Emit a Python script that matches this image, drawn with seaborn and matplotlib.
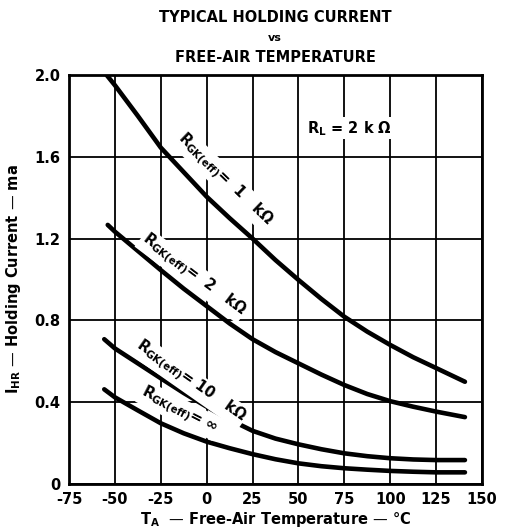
import pandas as pd
import matplotlib
matplotlib.use("Agg")
import matplotlib.pyplot as plt
import seaborn as sns

# temperatures (degC) and holding current (ma)
temp_1k = [-54.5, -50, -37.5, -25, -12.5, 0, 12.5, 25, 37.5, 50, 62.5, 75, 87.5, 100, 112.5, 125, 140.7]
ih_1k = [2.0, 1.95, 1.80, 1.645, 1.525, 1.405, 1.30, 1.20, 1.095, 0.998, 0.905, 0.818, 0.745, 0.68, 0.62, 0.567, 0.50]

temp_2k = [-53.9, -50, -37.5, -25, -12.5, 0, 12.5, 25, 37.5, 50, 62.5, 75, 87.5, 100, 112.5, 125, 140.7]
ih_2k = [1.267, 1.234, 1.14, 1.046, 0.955, 0.870, 0.785, 0.708, 0.645, 0.59, 0.535, 0.484, 0.44, 0.405, 0.378, 0.354, 0.327]

temp_10k = [-55.8, -50, -37.5, -25, -12.5, 0, 12.5, 25, 37.5, 50, 62.5, 75, 87.5, 100, 112.5, 125, 140.7]
ih_10k = [0.708, 0.663, 0.59, 0.517, 0.445, 0.378, 0.315, 0.26, 0.222, 0.194, 0.17, 0.150, 0.136, 0.126, 0.12, 0.117, 0.117]

temp_inf = [-55.8, -50, -37.5, -25, -12.5, 0, 12.5, 25, 37.5, 50, 62.5, 75, 87.5, 100, 112.5, 125, 140.7]
ih_inf = [0.463, 0.424, 0.36, 0.297, 0.248, 0.207, 0.175, 0.146, 0.121, 0.101, 0.087, 0.077, 0.07, 0.064, 0.06, 0.057, 0.057]

x_ticks = [-75, -50, -25, 0, 25, 50, 75, 100, 125, 150]
y_ticks = [0, 0.4, 0.8, 1.2, 1.6, 2.0]
y_tick_labels = ["0", "0.4", "0.8", "1.2", "1.6", "2.0"]


def main():
    frames = []
    for name, t, ih in [("1k", temp_1k, ih_1k), ("2k", temp_2k, ih_2k),
                        ("10k", temp_10k, ih_10k), ("inf", temp_inf, ih_inf)]:
        frames.append(pd.DataFrame({"temp": t, "ih": ih, "rgk": name}))
    df = pd.concat(frames, ignore_index=True)

    sns.set_style("white")
    plt.rcParams["font.family"] = ["DejaVu Sans"]
    plt.rcParams["text.color"] = "black"
    plt.rcParams["axes.labelcolor"] = "black"
    plt.rcParams["xtick.color"] = "black"
    plt.rcParams["ytick.color"] = "black"

    fig = plt.figure(figsize=(5.05, 5.31), dpi=100)
    ax = fig.add_axes([69 / 505, 1 - 484 / 531, 413 / 505, 409 / 531])

    sns.lineplot(data=df, x="temp", y="ih", hue="rgk", sort=False,
                 palette=["black"] * 4, linewidth=3.3, legend=False, ax=ax,
                 zorder=3)

    ax.set_xlim(-75, 150)
    ax.set_ylim(0, 2.0)
    ax.set_xticks(x_ticks)
    ax.set_yticks(y_ticks)
    ax.set_xticklabels([str(v) for v in x_ticks], fontsize=10.5, fontweight="bold")
    ax.set_yticklabels(y_tick_labels, fontsize=10.5, fontweight="bold")
    ax.tick_params(length=0, pad=6)
    ax.grid(True, color="black", linewidth=1.3)
    for s in ax.spines.values():
        s.set_color("black")
        s.set_linewidth(2)

    ax.set_xlabel(r"T$_\mathregular{A}$  — Free-Air Temperature — °C",
                  fontsize=10.5, fontweight="bold", labelpad=2)
    ax.set_ylabel(r"I$_\mathregular{HR}$ — Holding Current — ma",
                  fontsize=10.5, fontweight="bold", labelpad=8)

    box = dict(facecolor="white", edgecolor="none", pad=1)
    kw = dict(ha="center", va="center", fontsize=10.5, fontweight="semibold",
              bbox=box, zorder=4)
    ax.text(9.4, 1.49, r"R$_\mathregular{GK(eff)}$=  1   kΩ", rotation=-44, **kw)
    ax.text(-7.5, 1.02, r"R$_\mathregular{GK(eff)}$=  2   kΩ", rotation=-37, **kw)
    ax.text(-9.1, 0.50, r"R$_\mathregular{GK(eff)}$= 10   kΩ", rotation=-35, **kw)
    ax.text(-15, 0.36, r"R$_\mathregular{GK(eff)}$= ∞", rotation=-27, **kw)
    ax.text(78, 1.74, r"R$_\mathregular{L}$ = 2 k Ω", **kw)

    fig.text(0.545, 1 - 17 / 531, "TYPICAL HOLDING CURRENT", ha="center", va="center",
             fontsize=10.5, fontweight="bold")
    fig.text(0.545, 1 - 38 / 531, "vs", ha="center", va="center",
             fontsize=8, fontweight="bold")
    fig.text(0.545, 1 - 57 / 531, "FREE-AIR TEMPERATURE", ha="center", va="center",
             fontsize=10.5, fontweight="bold")

    fig.savefig("out.png", dpi=100)


if __name__ == "__main__":
    main()
